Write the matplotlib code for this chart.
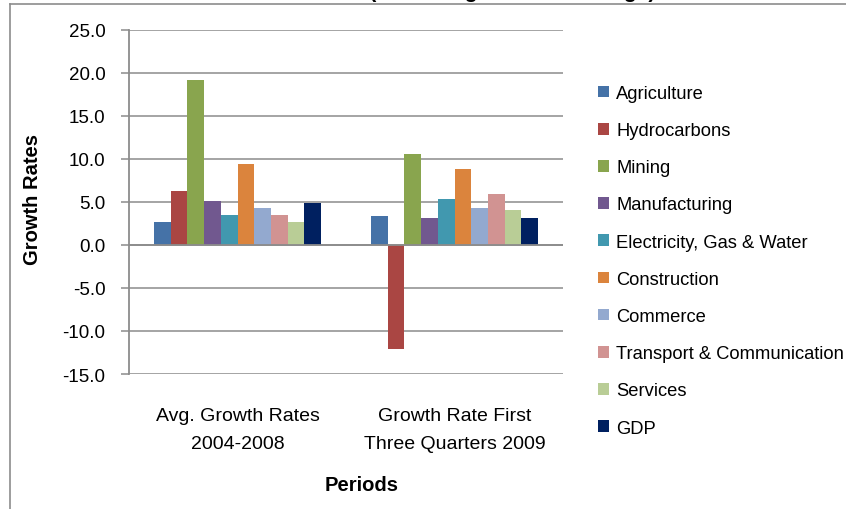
import matplotlib
matplotlib.use("Agg")
import matplotlib.pyplot as plt
from matplotlib.lines import Line2D
import numpy as np

plt.rcParams['font.family'] = ['Liberation Sans', 'DejaVu Sans']

periods = ["Avg. Growth Rates\n2004-2008", "Growth Rate First\nThree Quarters 2009"]
sectors = ["Agriculture", "Hydrocarbons", "Mining", "Manufacturing",
           "Electricity, Gas & Water", "Construction", "Commerce",
           "Transport & Communication", "Services", "GDP"]
avg_2004_2008 = [2.7, 6.3, 19.1, 5.1, 3.5, 9.4, 4.3, 3.5, 2.7, 4.9]
first_q3_2009 = [3.3, -12.1, 10.6, 3.1, 5.3, 8.8, 4.3, 5.9, 4.1, 3.1]
colors = ["#4572A7", "#AA4643", "#89A54E", "#71588F", "#4198AF",
          "#DB843D", "#93A9CF", "#D19392", "#B9CD96", "#002060"]

W, H = 846, 510
fig = plt.figure(figsize=(W / 100, H / 100), dpi=100)
ax = fig.add_axes([129 / W, 1 - 375 / H, (563 - 129) / W, (375 - 30.7) / H])

n = len(sectors)
bw = 1 / 13
x = np.arange(len(periods))
for i, name in enumerate(sectors):
    vals = [avg_2004_2008[i], first_q3_2009[i]]
    ax.bar(x + (i - (n - 1) / 2) * bw, vals, bw, color=colors[i], label=name,
           zorder=3, edgecolor="none")

ax.set_xlim(-0.5, 1.5)
ax.set_ylim(-15, 25)
ax.set_yticks(np.arange(-15, 26, 5))
ax.yaxis.set_major_formatter(matplotlib.ticker.FormatStrFormatter("%.1f"))
ax.grid(axis="y", color="#8c8c8c", linewidth=1.1, zorder=0)
ax.axhline(0, color="#8c8c8c", linewidth=1.3, zorder=4)
for s in ["top", "right", "bottom"]:
    ax.spines[s].set_visible(False)
ax.spines["left"].set_color("#8c8c8c")
ax.spines["left"].set_linewidth(1.3)
ax.tick_params(axis="y", length=6, width=1.1, color="#8c8c8c", pad=11, labelsize=13.5)
ax.set_xticks(x)
ax.set_xticklabels(periods, fontsize=14, linespacing=1.85)
ax.tick_params(axis="x", length=0, pad=24)

fig.text(33 / W, 1 - 200 / H, "Growth Rates", rotation=90, ha="center", va="center",
         fontsize=14.5, fontweight="bold")
fig.text(362 / W, 1 - 486 / H, "Periods", ha="center", va="center",
         fontsize=14.5, fontweight="bold")
fig.text(0.47, 1.004, "Sectoral Growth Rates (Percentage Rate of Change)", ha="center",
         va="baseline", fontsize=15, fontweight="bold")

ax.legend(loc="upper left", bbox_to_anchor=(598 / W, 1 - 86 / H),
          bbox_transform=fig.transFigure, frameon=False, fontsize=13.2,
          handlelength=0.6, handleheight=0.6, handletextpad=0.4,
          labelspacing=1.1, borderaxespad=0, borderpad=0)

fig.add_artist(Line2D([10 / W, 10 / W], [0, 1 - 5 / H], color="#8c8c8c", linewidth=1.2,
                      transform=fig.transFigure))
fig.add_artist(Line2D([10 / W, 1], [1 - 5 / H, 1 - 5 / H], color="#8c8c8c", linewidth=1.2,
                      transform=fig.transFigure))

fig.savefig("out.png", dpi=100)
